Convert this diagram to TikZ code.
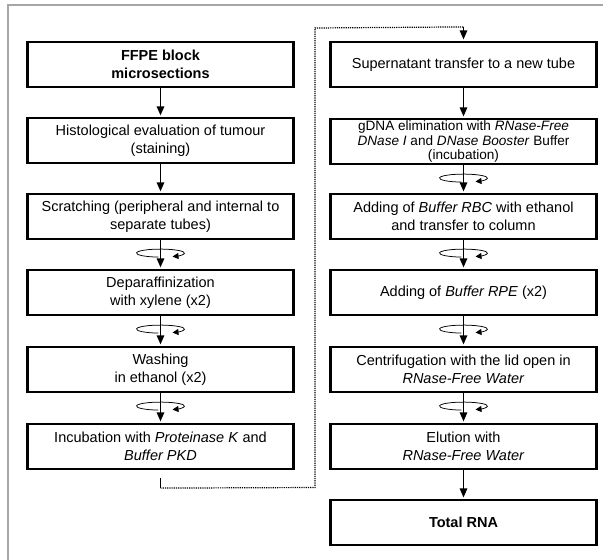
\documentclass[tikz,border=0pt]{standalone}
\usepackage{fontspec}
\setmainfont{Liberation Sans}
\usetikzlibrary{arrows.meta,calc}
\tikzset{
  stepbox/.style={draw=black, line width=2.2pt, minimum width=266pt, minimum height=45pt,
    align=center, inner sep=2pt, font=\fontsize{14.5}{17.5}\selectfont},
  arr/.style={line width=1.4pt, shorten >=1.5pt, -{Triangle[length=9pt,width=7.5pt]}},
  dotline/.style={line width=1.2pt, dash pattern=on 1.2pt off 1pt},
  frameline/.style={draw=black!35, line width=1.3pt},
  spinsym/.pic={
    \draw[line width=0.75pt, -{Triangle[length=6pt,width=6pt]}]
      (265:24pt and 4pt) arc[start angle=265, end angle=-60, x radius=24pt, y radius=4pt];
  }
}
\begin{document}
\begin{tikzpicture}
\useasboundingbox (0pt,0pt) rectangle (603pt,-560pt);
\fill[white] (0pt,0pt) rectangle (603pt,-560pt);
\draw[frameline] (8pt,-560pt) -- (8pt,-5pt) -- (603pt,-5pt);

% left column
\node[stepbox] (l1) at (160.5pt,-64.5pt) {\bfseries FFPE block\\\bfseries microsections};
\node[stepbox] (l2) at (160.5pt,-140.5pt) {Histological evaluation of tumour\\(staining)};
\node[stepbox] (l3) at (160.5pt,-216.5pt) {Scratching (peripheral and internal to\\separate tubes)};
\node[stepbox] (l4) at (160.5pt,-292.5pt) {Deparaffinization\\with xylene (x2)};
\node[stepbox] (l5) at (160.5pt,-369.5pt) {Washing\\in ethanol (x2)};
\node[stepbox] (l6) at (160.5pt,-446.5pt) {Incubation with \textit{Proteinase K} and\\\textit{Buffer PKD}};

% right column
\node[stepbox] (r1) at (463.5pt,-64.5pt) {Supernatant transfer to a new tube};
\node[stepbox, inner ysep=0pt, font=\fontsize{13.6}{14.8}\selectfont] (r2) at (463.5pt,-141.5pt)
  {gDNA elimination with \textit{RNase-Free}\\\textit{DNase I} and \textit{DNase Booster} Buffer\\(incubation)};
\node[stepbox] (r3) at (463.5pt,-216.5pt) {Adding of \textit{Buffer RBC} with ethanol\\and transfer to column};
\node[stepbox] (r4) at (463.5pt,-292.5pt) {Adding of \textit{Buffer RPE} (x2)};
\node[stepbox] (r5) at (463.5pt,-369.5pt) {Centrifugation with the lid open in\\\textit{RNase-Free Water}};
\node[stepbox] (r6) at (463.5pt,-446.5pt) {Elution with\\\textit{RNase-Free Water}};
\node[stepbox] (r7) at (463.5pt,-522.5pt) {\bfseries Total RNA};

% spin symbols
\foreach \b in {l3,l4,l5,r2,r3,r4,r5}{
  \pic at ($(\b.south)+(0,-13pt)$) {spinsym};
}

% arrows
\draw[arr] (l1.south) -- (l2.north);
\draw[arr] (l2.south) -- (l3.north);
\draw[arr] (l3.south) -- (l4.north);
\draw[arr] (l4.south) -- (l5.north);
\draw[arr] (l5.south) -- (l6.north);
\draw[arr] (r1.south) -- (r2.north);
\draw[arr] (r2.south) -- (r3.north);
\draw[arr] (r3.south) -- (r4.north);
\draw[arr] (r4.south) -- (r5.north);
\draw[arr] (r5.south) -- (r6.north);
\draw[arr] (r6.south) -- (r7.north);

% dotted connector
\coordinate (c1) at ($(l6.south)+(0,-8pt)$);
\coordinate (c2) at ($(l6.south)+(0,-18pt)$);
\coordinate (c3) at (315pt,-487.5pt);
\coordinate (c4) at (315pt,-28pt);
\coordinate (c5) at ($(r1.north)+(0,14pt)$);
\draw[line width=1.2pt] (c1) -- (c2);
\draw[dotline] (c2) -- (c3) -- (c4) -- (c5);
\draw[arr] (c5) -- (r1.north);
\end{tikzpicture}
\end{document}
